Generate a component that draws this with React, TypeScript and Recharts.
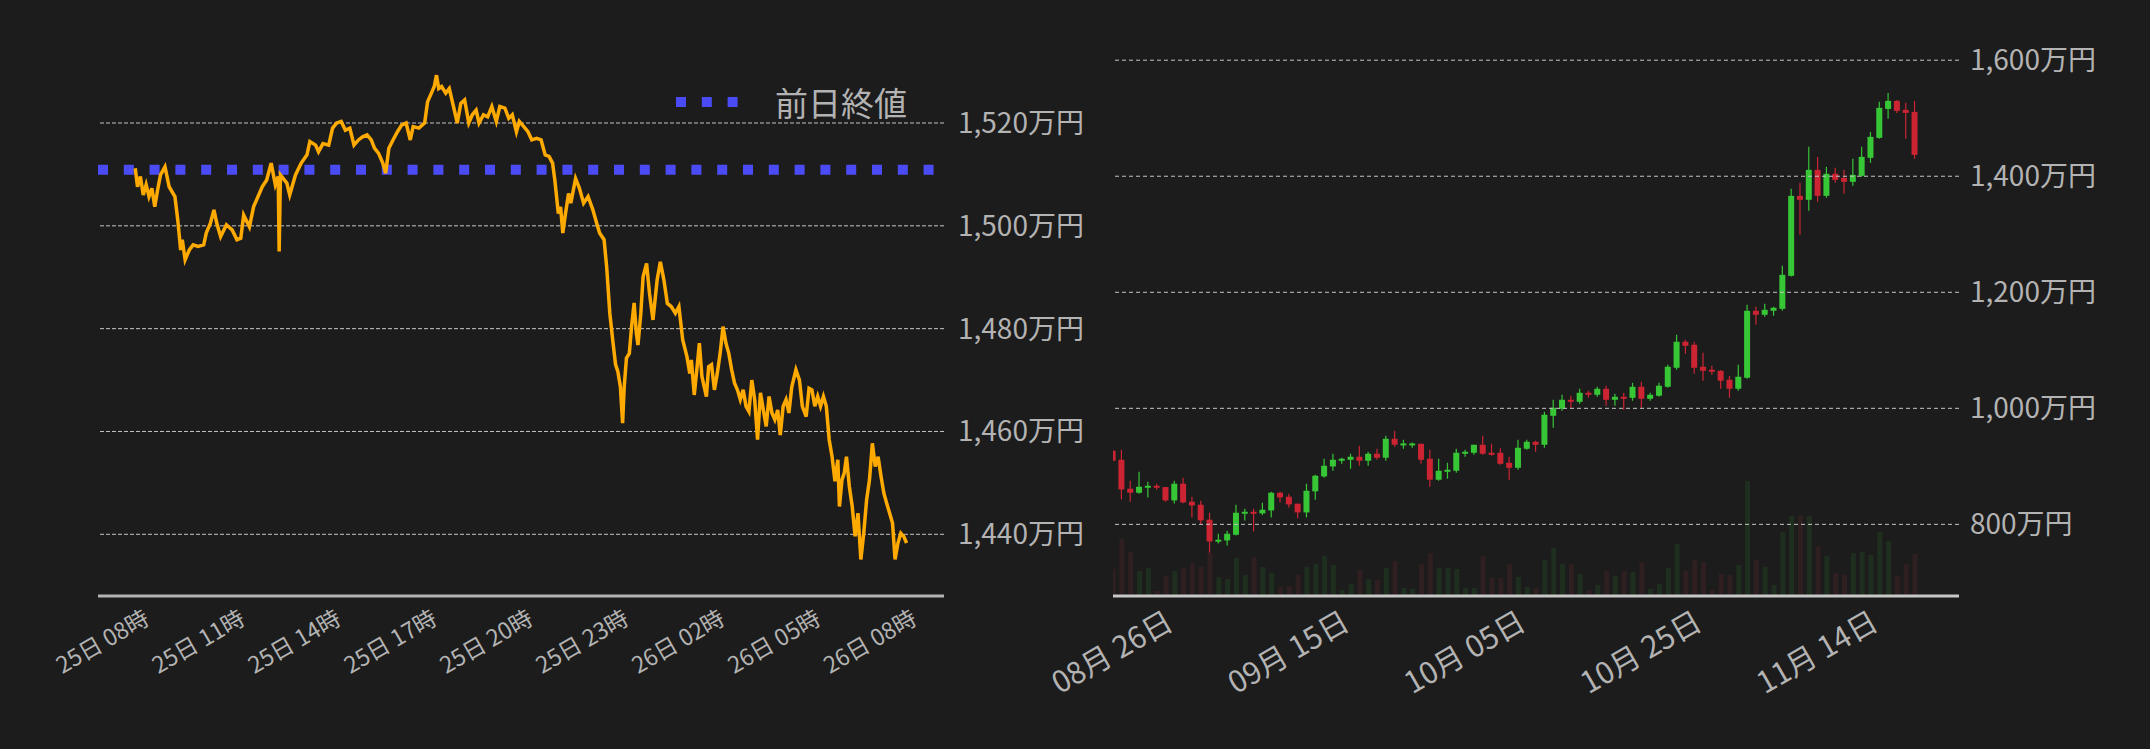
import React from 'react';
import { LineChart, Line, ComposedChart, Bar, XAxis, YAxis, ReferenceLine } from 'recharts';

const FONT = '"Noto Sans CJK JP", "Noto Sans", sans-serif';
const BG = '#1c1c1c';
const TEXT = '#b3b3b3';
const GRID = '#c4c4c4';
const GREEN = '#36c636';
const RED = '#cc2433';
const VOL_GREEN = '#1f2f1f';
const VOL_RED = '#2f1f21';

// ---------- Intraday (hours since 25日 00:00) ----------
const intradayTimes = [
  8.74, 8.81, 8.9, 8.99, 9.08, 9.17, 9.26, 9.35, 9.44, 9.53, 9.67, 9.8, 9.98, 10.07, 10.16, 10.21, 10.3, 10.43, 10.55, 10.7,
  10.88, 10.96, 11.09, 11.2, 11.29, 11.41, 11.59, 11.77, 11.92, 12.04, 12.13, 12.31, 12.44, 12.58, 12.71, 12.85, 12.99, 13.12, 13.21, 13.24,
  13.28, 13.48, 13.57, 13.75, 13.93, 14.11, 14.2, 14.38, 14.47, 14.61, 14.79, 14.91, 15.04, 15.18, 15.31, 15.45, 15.58, 15.72, 15.85, 15.99,
  16.12, 16.22, 16.35, 16.48, 16.57, 16.67, 16.8, 16.94, 17.07, 17.21, 17.34, 17.43, 17.61, 17.79, 17.88, 18.02, 18.09, 18.16, 18.23, 18.32,
  18.45, 18.56, 18.68, 18.81, 18.92, 19.04, 19.17, 19.28, 19.4, 19.49, 19.63, 19.76, 19.89, 20.03, 20.14, 20.3, 20.42, 20.53, 20.66, 20.75,
  20.89, 21.02, 21.14, 21.29, 21.43, 21.56, 21.68, 21.79, 21.86, 21.97, 22.04, 22.11, 22.18, 22.29, 22.36, 22.51, 22.63, 22.76, 22.9, 23.05,
  23.17, 23.26, 23.4, 23.48, 23.58, 23.67, 23.76, 23.83, 23.91, 23.98, 24.03, 24.1, 24.19, 24.26, 24.34, 24.41, 24.46, 24.55, 24.62, 24.73,
  24.82, 24.93, 25.06, 25.16, 25.27, 25.38, 25.5, 25.63, 25.74, 25.86, 25.99, 26.08, 26.13, 26.22, 26.31, 26.38, 26.46, 26.53, 26.6, 26.67,
  26.76, 26.85, 26.94, 27.03, 27.12, 27.21, 27.3, 27.39, 27.48, 27.57, 27.66, 27.75, 27.84, 27.93, 28.02, 28.11, 28.2, 28.29, 28.38, 28.47,
  28.56, 28.65, 28.74, 28.83, 28.91, 29.0, 29.09, 29.18, 29.27, 29.4, 29.51, 29.6, 29.72, 29.81, 29.9, 29.99, 30.08, 30.17, 30.26, 30.35,
  30.44, 30.53, 30.62, 30.71, 30.76, 30.84, 30.91, 30.98, 31.07, 31.16, 31.25, 31.34, 31.43, 31.52, 31.61, 31.7, 31.79, 31.88, 31.97, 32.06,
  32.15, 32.24, 32.33, 32.42, 32.5, 32.59, 32.68, 32.77, 32.86,
];
const intradayPrices = [
  1511.2, 1507.6, 1509.6, 1506.0, 1508.0, 1505.7, 1507.3, 1503.7, 1507.0, 1509.9, 1511.5, 1507.6, 1505.7, 1501.1, 1495.3, 1497.3, 1493.4, 1495.3, 1496.3, 1496.0,
  1496.3, 1498.6, 1500.5, 1503.1, 1500.5, 1497.9, 1500.2, 1499.2, 1497.3, 1497.6, 1502.1, 1499.8, 1503.7, 1505.7, 1507.6, 1508.9, 1512.2, 1508.0, 1509.6, 1495.0,
  1509.9, 1508.3, 1506.0, 1509.9, 1512.2, 1513.8, 1516.4, 1515.7, 1514.4, 1516.0, 1515.7, 1519.0, 1520.0, 1520.3, 1518.6, 1519.0, 1515.7, 1516.7, 1517.3, 1517.7,
  1516.7, 1515.1, 1514.1, 1512.2, 1510.2, 1515.1, 1516.7, 1518.3, 1519.6, 1520.0, 1516.7, 1519.3, 1519.0, 1520.0, 1524.1, 1526.1, 1527.1, 1529.3, 1526.7, 1527.1,
  1525.8, 1526.7, 1523.5, 1520.0, 1523.8, 1524.5, 1520.0, 1521.6, 1522.5, 1520.0, 1521.6, 1521.2, 1523.2, 1520.3, 1523.2, 1522.9, 1520.9, 1521.6, 1518.3, 1520.3,
  1519.3, 1518.3, 1516.7, 1517.0, 1516.7, 1513.8, 1513.5, 1512.2, 1508.9, 1502.4, 1503.7, 1498.6, 1501.8, 1506.3, 1504.4, 1509.2, 1507.3, 1504.4, 1505.7, 1503.1,
  1500.5, 1498.6, 1497.3, 1492.1, 1483.0, 1477.8, 1473.0, 1471.7, 1468.7, 1461.6, 1468.7, 1474.3, 1475.2, 1480.4, 1485.0, 1479.1, 1476.8, 1483.0, 1490.1, 1492.7,
  1486.9, 1481.7, 1489.5, 1493.0, 1489.5, 1484.9, 1484.3, 1483.0, 1484.3, 1477.8, 1474.6, 1471.3, 1473.9, 1467.1, 1472.6, 1477.2, 1470.7, 1468.7, 1466.8, 1472.6,
  1473.0, 1468.1, 1471.3, 1475.2, 1480.4, 1477.2, 1475.2, 1472.0, 1469.4, 1468.1, 1466.2, 1468.1, 1464.9, 1463.9, 1470.0, 1466.2, 1458.4, 1467.5, 1464.2, 1461.0,
  1466.8, 1463.6, 1462.3, 1464.2, 1459.3, 1464.9, 1466.2, 1463.6, 1468.7, 1472.0, 1470.0, 1464.9, 1462.9, 1468.4, 1468.1, 1464.9, 1466.8, 1464.9, 1466.8, 1464.9,
  1458.4, 1455.1, 1450.3, 1454.5, 1445.4, 1450.6, 1451.9, 1455.1, 1449.3, 1445.4, 1439.6, 1444.1, 1435.1, 1440.2, 1446.7, 1450.6, 1457.7, 1453.2, 1455.1, 1451.3,
  1448.0, 1446.0, 1444.1, 1442.2, 1435.1, 1438.3, 1440.2, 1439.6, 1438.3,
];
const prevClose = 1510.9;
const intradayDomain = [7.575, 34.03];
const prevCloseSpan = [7.575, 33.704];
const hourTicks = [8, 11, 14, 17, 20, 23, 26, 29, 32];
const hourTickLabels = ['25日 08時', '25日 11時', '25日 14時', '25日 17時', '25日 20時', '25日 23時', '26日 02時', '26日 05時', '26日 08時'];
const intradayYTicks = [1440, 1460, 1480, 1500, 1520];

// ---------- Daily candles (万円) ----------
const candleDates = [
  '08/26', '08/27', '08/28', '08/29', '08/30', '08/31',
  '09/01', '09/02', '09/03', '09/04', '09/05', '09/06', '09/07', '09/08', '09/09', '09/10', '09/11', '09/12', '09/13', '09/14', '09/15',
  '09/16', '09/17', '09/18', '09/19', '09/20', '09/21', '09/22', '09/23', '09/24', '09/25', '09/26', '09/27', '09/28', '09/29', '09/30',
  '10/01', '10/02', '10/03', '10/04', '10/05', '10/06', '10/07', '10/08', '10/09', '10/10', '10/11', '10/12', '10/13', '10/14', '10/15',
  '10/16', '10/17', '10/18', '10/19', '10/20', '10/21', '10/22', '10/23', '10/24', '10/25', '10/26', '10/27', '10/28', '10/29', '10/30', '10/31',
  '11/01', '11/02', '11/03', '11/04', '11/05', '11/06', '11/07', '11/08', '11/09', '11/10', '11/11', '11/12', '11/13', '11/14', '11/15',
  '11/16', '11/17', '11/18', '11/19', '11/20', '11/21', '11/22', '11/23', '11/24', '11/25',
];
const opens = [
  926.8, 911.3, 861.4, 854.5, 863.7, 866.5, 864.2, 841.3, 870.0, 839.0, 833.8, 808.0, 770.6, 772.3, 782.1, 818.9, 821.7, 818.9, 824.0, 854.5,
  847.6, 835.5, 820.6, 856.8, 882.6, 899.8, 909.6, 911.3, 916.5, 909.6, 921.7, 914.8, 947.5, 937.2, 937.2, 938.9, 913.1, 876.9, 890.6, 892.4,
  921.7, 923.4, 937.2, 923.4, 923.4, 906.2, 897.5, 930.3, 942.3, 937.2, 987.1, 999.2, 1014.7, 1011.2, 1026.8, 1023.3, 1033.6, 1014.7, 1019.9, 1018.1,
  1037.1, 1016.4, 1021.7, 1037.2, 1069.9, 1114.7, 1109.5, 1071.6, 1066.5, 1064.7, 1049.2, 1033.7, 1052.7, 1168.1, 1161.2, 1168.1, 1171.5, 1228.4, 1366.2, 1359.4,
  1411.0, 1366.2, 1404.2, 1397.3, 1390.4, 1400.7, 1431.7, 1466.2, 1516.1, 1529.9, 1514.4, 1511.0,
];
const highs = [
  928.5, 928.5, 875.1, 890.7, 873.4, 870.0, 864.5, 875.1, 880.3, 847.6, 840.7, 820.0, 783.8, 789.0, 833.8, 826.9, 826.9, 837.2, 856.2, 856.2,
  852.7, 836.0, 870.0, 885.5, 913.1, 921.7, 914.8, 921.7, 935.4, 925.1, 930.3, 952.7, 961.3, 945.8, 941.2, 938.9, 928.6, 913.1, 906.2, 930.3,
  928.6, 937.2, 952.7, 938.9, 931.0, 916.5, 945.8, 945.8, 944.1, 994.0, 1014.7, 1023.3, 1021.6, 1033.6, 1030.2, 1037.1, 1038.8, 1025.0, 1026.8, 1044.0,
  1045.7, 1026.8, 1044.1, 1075.1, 1126.8, 1118.1, 1114.7, 1095.7, 1073.4, 1065.5, 1056.1, 1075.1, 1178.4, 1175.0, 1180.2, 1175.0, 1245.6, 1378.3, 1388.6, 1450.7,
  1433.4, 1416.2, 1414.5, 1411.0, 1430.0, 1450.7, 1476.5, 1528.2, 1543.7, 1531.6, 1526.5, 1529.9,
];
const lows = [
  907.9, 843.0, 838.9, 852.7, 846.4, 859.6, 839.0, 836.1, 836.5, 812.0, 799.9, 751.1, 767.2, 763.7, 780.9, 806.8, 787.9, 816.0, 812.0, 837.8,
  829.2, 810.3, 812.0, 842.4, 880.3, 892.4, 904.4, 895.8, 901.0, 901.0, 911.3, 909.6, 933.7, 930.3, 932.0, 904.4, 864.8, 875.1, 878.6, 888.9,
  916.5, 919.9, 919.9, 918.2, 902.7, 876.9, 894.1, 928.6, 925.1, 932.0, 966.5, 995.7, 999.2, 1007.8, 1018.1, 1019.9, 1004.4, 1004.4, 997.5, 1013.0,
  1000.9, 1013.0, 1019.9, 1035.4, 1066.5, 1094.0, 1059.6, 1047.5, 1057.8, 1033.7, 1018.2, 1030.3, 1050.9, 1144.0, 1157.8, 1159.5, 1168.1, 1227.0, 1299.1, 1340.4,
  1355.9, 1362.8, 1388.6, 1369.7, 1383.5, 1399.0, 1423.1, 1464.5, 1498.9, 1509.2, 1464.5, 1430.0,
];
const closes = [
  909.6, 860.2, 854.5, 864.8, 866.5, 863.7, 841.3, 870.0, 837.8, 832.6, 806.8, 770.6, 773.5, 783.8, 820.0, 821.7, 818.9, 825.2, 854.5, 846.4,
  834.4, 820.6, 857.9, 883.8, 901.0, 911.3, 913.1, 916.5, 909.6, 921.7, 914.8, 947.5, 937.2, 939.5, 939.5, 911.3, 876.9, 892.4, 894.1, 923.4,
  925.1, 937.2, 921.7, 921.7, 904.4, 897.5, 932.0, 942.3, 937.2, 988.9, 1000.9, 1014.7, 1011.2, 1026.8, 1023.3, 1033.6, 1014.7, 1019.9, 1018.1, 1037.1,
  1016.4, 1023.3, 1038.9, 1071.6, 1114.7, 1107.8, 1069.9, 1064.7, 1063.0, 1047.5, 1033.7, 1054.4, 1168.1, 1161.2, 1169.8, 1173.3, 1230.1, 1366.2, 1359.4, 1411.0,
  1366.2, 1404.2, 1393.8, 1390.4, 1402.4, 1433.4, 1467.9, 1517.9, 1529.9, 1512.7, 1509.2, 1436.9,
];
const volumes = [
  27, 57, 44, 25, 28, 5, 20, 25, 28, 33, 29, 43, 19, 17, 38, 21, 39, 29, 23, 9,
  10, 21, 29, 32, 40, 31, 6, 12, 26, 17, 16, 28, 35, 8, 7, 32, 43, 28, 28, 27,
  8, 8, 40, 18, 18, 32, 19, 9, 8, 36, 48, 32, 32, 22, 6, 11, 25, 20, 25, 24,
  34, 7, 12, 28, 52, 25, 36, 34, 6, 22, 21, 31, 115, 36, 29, 11, 64, 80, 81, 80,
  50, 40, 23, 21, 43, 44, 41, 64, 55, 20, 32, 42,
];
const dailyDomain = [0, 96];
const dailyTicks = [0, 20, 40, 60, 80];
const dailyTickLabels = ['08月 26日', '09月 15日', '10月 05日', '10月 25日', '11月 14日'];
const dailyYTicks = [800, 1000, 1200, 1400, 1600];

const intradayData = intradayTimes.map((t, i) => ({ t, price: intradayPrices[i] }));
const candleData = candleDates.map((d, i) => ({
  x: i,
  date: d,
  o: opens[i],
  h: highs[i],
  l: lows[i],
  c: closes[i],
  range: [lows[i], highs[i]],
  vol: volumes[i],
}));

const yen = (v: number) => `${v.toLocaleString('en-US')}万円`;

const HourTick = (props: any) => {
  const { x, payload } = props;
  const idx = hourTicks.indexOf(payload.value);
  const cx = x - 10;
  const cy = 640;
  return (
    <text x={cx} y={cy} textAnchor="middle" dominantBaseline="central" transform={`rotate(-30, ${cx}, ${cy})`}
      fill={TEXT} fontSize={23} fontFamily={FONT}>
      {hourTickLabels[idx]}
    </text>
  );
};

const DateTick = (props: any) => {
  const { x, payload } = props;
  const idx = dailyTicks.indexOf(payload.value);
  const cx = x - 2;
  const cy = 650;
  return (
    <text x={cx} y={cy} textAnchor="middle" dominantBaseline="central" transform={`rotate(-30, ${cx}, ${cy})`}
      fill={TEXT} fontSize={30} fontFamily={FONT}>
      {dailyTickLabels[idx]}
    </text>
  );
};

const CandleShape = (props: any) => {
  const { x, y, width, height, payload } = props;
  if (!payload || x == null) return null;
  const { o, h, l, c } = payload;
  const top = Math.min(y, y + height);
  const bot = Math.max(y, y + height);
  const span = h - l || 1;
  const ppu = (bot - top) / span;
  const py = (v: number) => top + (h - v) * ppu;
  const up = c >= o;
  const color = up ? GREEN : RED;
  const cx = x + width / 2;
  const bTop = py(Math.max(o, c));
  const bBot = py(Math.min(o, c));
  const bh = Math.max(bBot - bTop, 2);
  return (
    <g>
      <line x1={cx} x2={cx} y1={top} y2={bot} stroke={color} strokeWidth={1.2} />
      <rect x={x} y={bTop} width={width} height={bh} fill={color} />
    </g>
  );
};

const VolShape = (props: any) => {
  const { x, y, width, height, payload } = props;
  if (!payload || x == null) return null;
  const up = payload.c >= payload.o;
  return <rect x={x} y={y} width={width} height={Math.max(height, 0)} fill={up ? VOL_GREEN : VOL_RED} />;
};

export default function App() {
  return (
    <div style={{ position: 'absolute', left: 0, top: 0, width: 2150, height: 749, background: BG, overflow: 'hidden', fontFamily: FONT }}>
      <div style={{ position: 'absolute', left: 0, top: 0 }}>
        <LineChart width={1100} height={749} data={intradayData} margin={{ top: 25, right: 0, bottom: 0, left: 98 }}>
          <XAxis dataKey="t" type="number" domain={intradayDomain} ticks={hourTicks} interval={0} allowDataOverflow
            height={153} axisLine={{ stroke: '#b4b4b4', strokeWidth: 3 }} tickLine={false} tick={<HourTick />} />
          <YAxis orientation="right" width={156} domain={[1428, 1539.06]} ticks={intradayYTicks} allowDataOverflow
            axisLine={false} tickLine={false} tickSize={0} tickMargin={14} interval={0}
            tick={{ fill: TEXT, fontSize: 28, fontFamily: FONT }} tickFormatter={yen} />
          {intradayYTicks.map((t) => (
            <ReferenceLine key={`g${t}`} y={t} stroke={GRID} strokeDasharray="4 2" strokeWidth={1} />
          ))}
          <ReferenceLine segment={[{ x: prevCloseSpan[0], y: prevClose }, { x: prevCloseSpan[1], y: prevClose }]}
            stroke="#4b4bf5" strokeWidth={10} strokeDasharray="10 15.8" />
          <Line type="linear" dataKey="price" stroke="#ffaa00" strokeWidth={3.5} dot={false} isAnimationActive={false} />
        </LineChart>
      </div>
      <svg style={{ position: 'absolute', left: 670, top: 77 }} width={260} height={50}>
        <rect x={6} y={20} width={10} height={10} fill="#4b4bf5" />
        <rect x={31.8} y={20} width={10} height={10} fill="#4b4bf5" />
        <rect x={57.6} y={20} width={10} height={10} fill="#4b4bf5" />
        <text x={105} y={25} dominantBaseline="central" fill={TEXT} fontSize={33} fontFamily={FONT}>前日終値</text>
      </svg>
      <div style={{ position: 'absolute', left: 1000, top: 0 }}>
        <ComposedChart width={1150} height={749} data={candleData} margin={{ top: 25, right: 0, bottom: 0, left: 113 }}>
          <XAxis xAxisId="x" dataKey="x" type="number" domain={dailyDomain} ticks={dailyTicks} interval={0} allowDataOverflow
            height={153} axisLine={{ stroke: '#c8c8c8', strokeWidth: 3 }} tickLine={false} tick={<DateTick />} />
          <XAxis xAxisId="vx" dataKey="x" type="number" domain={dailyDomain} allowDataOverflow hide height={0} />
          <YAxis yAxisId="price" orientation="right" width={191} domain={[676.5, 1660.7]} ticks={dailyYTicks} allowDataOverflow
            axisLine={false} tickLine={false} tickSize={0} tickMargin={11} interval={0}
            tick={{ fill: TEXT, fontSize: 28, fontFamily: FONT }} tickFormatter={yen} />
          <YAxis yAxisId="vol" domain={[0, 571.3]} allowDataOverflow hide width={0} />
          {dailyYTicks.map((t) => (
            <ReferenceLine key={`g${t}`} xAxisId="x" yAxisId="price" y={t} stroke={GRID} strokeDasharray="4 3" strokeWidth={1} />
          ))}
          <Bar xAxisId="vx" yAxisId="vol" dataKey="vol" barSize={5} shape={<VolShape />} isAnimationActive={false} />
          <Bar xAxisId="x" yAxisId="price" dataKey="range" barSize={6} shape={<CandleShape />} isAnimationActive={false} />
        </ComposedChart>
      </div>
    </div>
  );
}
